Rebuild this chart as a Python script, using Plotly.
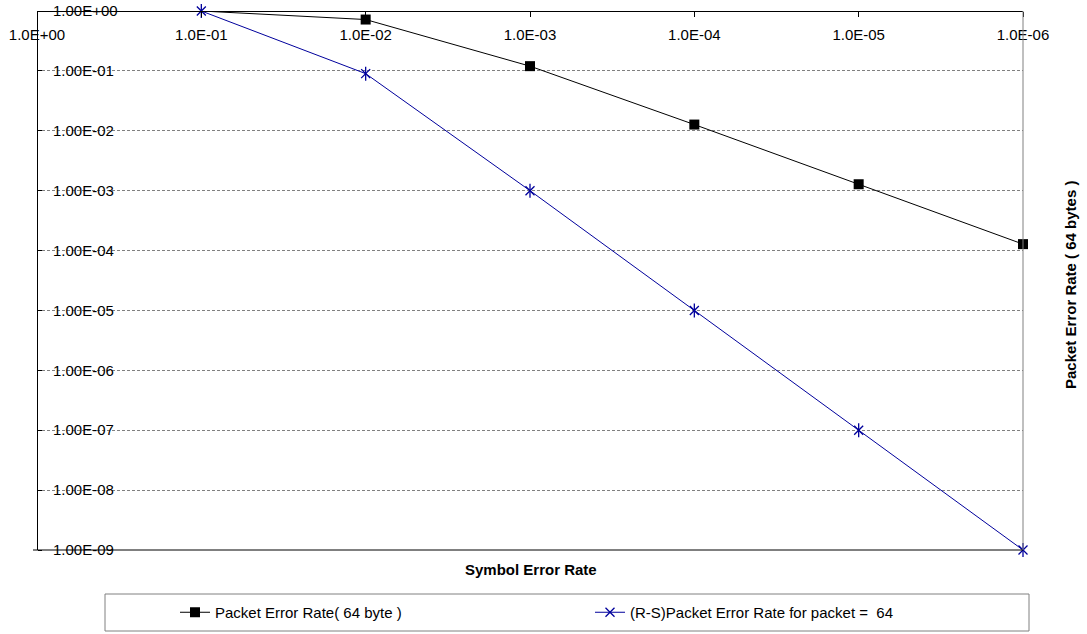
import plotly.graph_objects as go

# ---- data ----
categories = ["1.0E+00", "1.0E-01", "1.0E-02", "1.0E-03", "1.0E-04", "1.0E-05", "1.0E-06"]
per_x = ["1.0E-01", "1.0E-02", "1.0E-03", "1.0E-04", "1.0E-05", "1.0E-06"]
per_values = [1.0, 0.72, 0.12, 0.0127, 0.00128, 0.000128]
rs_x = ["1.0E-01", "1.0E-02", "1.0E-03", "1.0E-04", "1.0E-05", "1.0E-06"]
rs_values = [1.0, 0.09, 1e-3, 1e-5, 1e-7, 1e-9]
y_tickvals = [1e0, 1e-1, 1e-2, 1e-3, 1e-4, 1e-5, 1e-6, 1e-7, 1e-8, 1e-9]
y_ticktext = ["1.00E+00", "1.00E-01", "1.00E-02", "1.00E-03", "1.00E-04",
              "1.00E-05", "1.00E-06", "1.00E-07", "1.00E-08", "1.00E-09"]

FONT = "Liberation Sans, Arial, sans-serif"
FS = 15
BLUE = "#00009C"

# plot area in pixels
L, R, T, B = 37, 1023, 11, 550
W, H = 1087, 634
def px_x(p):
    return (p - L) / (R - L)
def px_y(p):
    return (B - p) / (B - T)

fig = go.Figure()
fig.add_trace(go.Scatter(
    x=per_x, y=per_values, mode="lines+markers",
    name="Packet Error Rate( 64 byte )",
    line=dict(color="black", width=1),
    marker=dict(symbol="square", size=10, color="black"),
    # first black marker is hidden under the star in the reference
    selectedpoints=list(range(1, len(per_values))),
    selected=dict(marker=dict(opacity=1)),
    unselected=dict(marker=dict(opacity=0)),
    cliponaxis=False,
))
fig.add_trace(go.Scatter(
    x=rs_x, y=rs_values, mode="lines+markers",
    name="(R-S)Packet Error Rate for packet =&nbsp; 64",
    line=dict(color=BLUE, width=1),
    marker=dict(symbol="x-thin-open", size=9, color=BLUE, line=dict(color=BLUE, width=1.3)),
    cliponaxis=False,
))
fig.add_trace(go.Scatter(
    x=rs_x, y=rs_values, mode="markers", showlegend=False, hoverinfo="skip",
    marker=dict(symbol="line-ns-open", size=10, color=BLUE, line=dict(color=BLUE, width=1.3)),
    cliponaxis=False,
))

fig.update_layout(
    width=W, height=H,
    margin=dict(l=L, r=W - R, t=T, b=H - B, autoexpand=False),
    paper_bgcolor="white", plot_bgcolor="white",
    font=dict(family=FONT, size=FS, color="black"),
    showlegend=True,
    legend=dict(
        orientation="h", x=px_x(175), xanchor="left", y=px_y(612.5), yanchor="middle",
        bgcolor="rgba(0,0,0,0)", borderwidth=0,
        font=dict(family=FONT, size=FS, color="black"),
        entrywidth=370, entrywidthmode="pixels",
    ),
    xaxis=dict(
        type="category", categoryorder="array", categoryarray=categories,
        range=[0, 6], anchor="free", position=1, side="bottom",
        showline=True, linecolor="black", linewidth=1,
        ticks="outside", ticklen=5, tickcolor="black", tickwidth=1,
        showgrid=False, zeroline=False, automargin=False,
        tickfont=dict(family=FONT, size=FS, color="black"),
        ticklabelstandoff=5,
    ),
    yaxis=dict(
        type="log", range=[-9, 0], anchor="free", position=0, side="right",
        showline=True, linecolor="black", linewidth=1,
        ticks="outside", ticklen=4, tickcolor="black", tickwidth=1,
        tickvals=y_tickvals, ticktext=y_ticktext,
        showgrid=True, gridcolor="#808080", gridwidth=1, griddash="3px,2px",
        zeroline=False, automargin=False,
        tickfont=dict(family=FONT, size=FS, color="black"),
        ticklabelstandoff=8,
    ),
    shapes=[
        dict(type="line", xref="paper", yref="paper", x0=px_x(33), x1=1, y0=0, y1=0,
             line=dict(color="black", width=1)),
        dict(type="line", xref="paper", yref="paper", x0=1, x1=1, y0=0, y1=1,
             line=dict(color="#808080", width=1)),
        dict(type="rect", xref="paper", yref="paper", x0=px_x(105), x1=px_x(1029),
             y0=px_y(631), y1=px_y(594), line=dict(color="#808080", width=1),
             fillcolor="rgba(0,0,0,0)"),
    ],
    annotations=[
        dict(text="<b>Symbol Error Rate</b>", xref="paper", yref="paper",
             x=px_x(531), y=px_y(569), xanchor="center", yanchor="middle",
             showarrow=False, font=dict(family=FONT, size=FS, color="black")),
        dict(text="<b>Packet Error Rate ( 64 bytes )</b>", xref="paper", yref="paper",
             x=px_x(1070), y=px_y(285), xanchor="center", yanchor="middle", textangle=-90,
             showarrow=False, font=dict(family=FONT, size=FS, color="black")),
    ],
)

fig.write_html("out.html")
